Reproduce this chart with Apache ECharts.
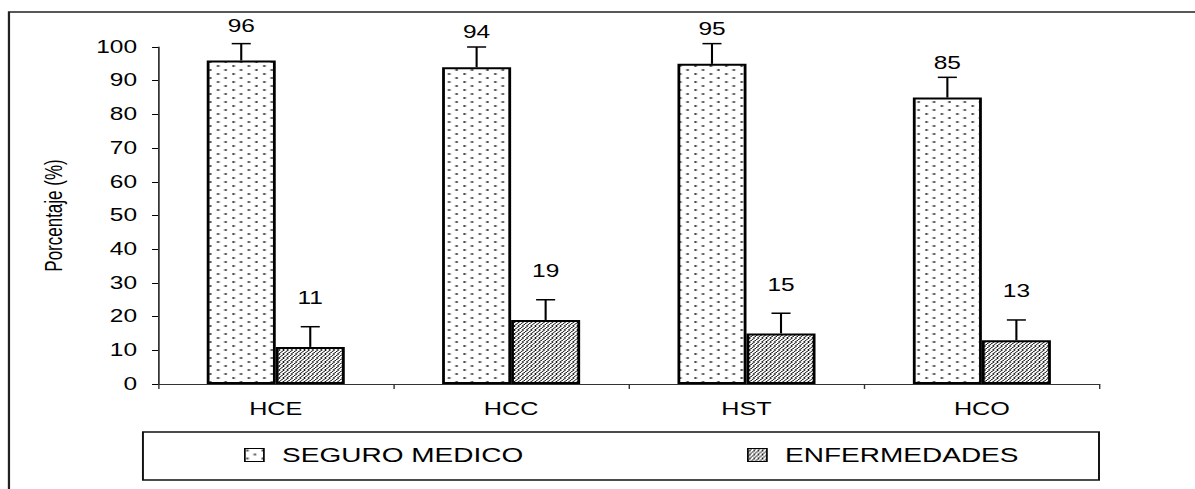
<!DOCTYPE html>
<html>
<head>
<meta charset="utf-8">
<script src="https://cdn.jsdelivr.net/npm/echarts@6/dist/echarts.min.js"></script>
<style>
html,body{margin:0;padding:0;background:#fff;overflow:hidden;}
#wrap{width:1195px;height:489px;overflow:hidden;position:relative;}
#chart{width:853.57px;height:489px;transform:scaleX(1.4);transform-origin:0 0;position:absolute;left:0;top:0;}
</style>
</head>
<body>
<div id="wrap"><div id="chart"></div></div>
<script>
// ---- data ----
const categories = ['HCE', 'HCC', 'HST', 'HCO'];
const seguroMedico = [96, 94, 95, 85];
const enfermedades = [11, 19, 15, 13];
const seguroErr = [5, 6, 6, 6];
const enfermedadesErr = [6, 6, 6, 6];
const seriesNames = ['SEGURO MEDICO', 'ENFERMEDADES'];
const yTicks = { min: 0, max: 100, interval: 10 };

// ---- patterns ----
function dotPattern() {
  const c = document.createElement('canvas');
  c.width = 11; c.height = 8;
  const g = c.getContext('2d');
  g.fillStyle = '#fff'; g.fillRect(0, 0, 11, 8);
  g.fillStyle = '#333';
  g.fillRect(1, 1, 1.5, 2);
  g.fillRect(6.5, 5, 1.5, 2);
  return c;
}
function hatchPattern() {
  const c = document.createElement('canvas');
  c.width = 3; c.height = 4;
  const g = c.getContext('2d');
  g.fillStyle = '#fff'; g.fillRect(0, 0, 3, 4);
  g.fillStyle = '#111';
  // crisp pixel staircase for a "/" diagonal
  g.fillRect(2, 0, 1, 1);
  g.fillRect(1, 1, 1, 1);
  g.fillRect(1, 2, 1, 1);
  g.fillRect(0, 3, 1, 1);
  return c;
}
const fills = [
  { image: dotPattern(), repeat: 'repeat' },
  { image: hatchPattern(), repeat: 'repeat' }
];

const FONT = "'Liberation Sans', Arial, sans-serif";
const BAR_W = 49.3;
const CAP_W = 13.6;

function errSeries(idx, values, errs) {
  return {
    type: 'custom',
    name: seriesNames[idx] + ' err',
    z: 3,
    silent: true,
    data: values.map((v, i) => [i, v, errs[i]]),
    renderItem: function (params, api) {
      const off = (idx === 0 ? -1 : 1) * BAR_W / 2;
      const b = api.coord([api.value(0), api.value(1)]);
      const t = api.coord([api.value(0), api.value(1) + api.value(2)]);
      const x = b[0] + off;
      const st = { stroke: '#000', lineWidth: 1.5 };
      return {
        type: 'group',
        children: [
          { type: 'line', shape: { x1: x, y1: b[1], x2: x, y2: t[1] }, style: st },
          { type: 'line', shape: { x1: x - CAP_W / 2, y1: t[1], x2: x + CAP_W / 2, y2: t[1] }, style: st }
        ]
      };
    }
  };
}

const chart = echarts.init(document.getElementById('chart'), null, { renderer: 'svg' });
chart.setOption({
  animation: false,
  backgroundColor: '#fff',
  textStyle: { fontFamily: FONT },
  grid: { left: 112.9, right: 68.6, top: 47, bottom: 105, containLabel: false },
  xAxis: {
    type: 'category',
    data: categories,
    axisLine: { lineStyle: { color: '#333', width: 1 } },
    axisTick: { show: true, length: 5, lineStyle: { color: '#333' } },
    axisLabel: { color: '#000', fontSize: 18, margin: 16, fontFamily: FONT }
  },
  yAxis: {
    type: 'value',
    min: yTicks.min, max: yTicks.max, interval: yTicks.interval,
    name: 'Porcentaje (%)',
    nameLocation: 'middle',
    nameGap: 66,
    nameTextStyle: { color: '#000', fontSize: 17, fontFamily: FONT },
    axisLine: { show: true, lineStyle: { color: '#000', width: 1 } },
    axisTick: { show: true, length: 4.3, lineStyle: { color: '#000' } },
    splitLine: { show: false },
    axisLabel: { color: '#000', fontSize: 17.5, margin: 15, fontFamily: FONT }
  },
  legend: [
    {
      data: [seriesNames[0]], left: 174.3, top: 445, padding: 0,
      itemWidth: 13.6, itemHeight: 13, icon: 'rect',
      itemStyle: { borderColor: '#000', borderWidth: 1.2 },
      textStyle: { color: '#000', fontSize: 20, lineHeight: 20, fontFamily: FONT, padding: [0, 0, 0, 8] }
    },
    {
      data: [seriesNames[1]], left: 533.6, top: 445, padding: 0,
      itemWidth: 13.6, itemHeight: 13, icon: 'rect',
      itemStyle: { borderColor: '#000', borderWidth: 1.2 },
      textStyle: { color: '#000', fontSize: 20, lineHeight: 20, fontFamily: FONT, padding: [0, 0, 0, 8] }
    }
  ],
  graphic: [
    { type: 'rect', silent: true, z: -1, shape: { x: 6.4, y: 12, width: 2000, height: 1000 },
      style: { fill: 'none', stroke: '#222', lineWidth: 1.6 } },
    { type: 'rect', silent: true, z: -1, shape: { x: 102.1, y: 432, width: 682.9, height: 48 },
      style: { fill: 'none', stroke: '#111', lineWidth: 1.4 } }
  ],
  series: [
    {
      type: 'bar', name: seriesNames[0], data: seguroMedico,
      barWidth: BAR_W, barGap: '0%',
      itemStyle: { color: fills[0], borderColor: '#000', borderWidth: 2 },
      label: { show: true, position: 'top', distance: 25.5, color: '#000', fontSize: 17.5, fontFamily: FONT }
    },
    {
      type: 'bar', name: seriesNames[1], data: enfermedades,
      barWidth: BAR_W, barGap: '0%',
      itemStyle: { color: fills[1], borderColor: '#000', borderWidth: 2 },
      label: { show: true, position: 'top', distance: 39.5, color: '#000', fontSize: 17.5, fontFamily: FONT }
    },
    errSeries(0, seguroMedico, seguroErr),
    errSeries(1, enfermedades, enfermedadesErr)
  ]
});
</script>
</body>
</html>
